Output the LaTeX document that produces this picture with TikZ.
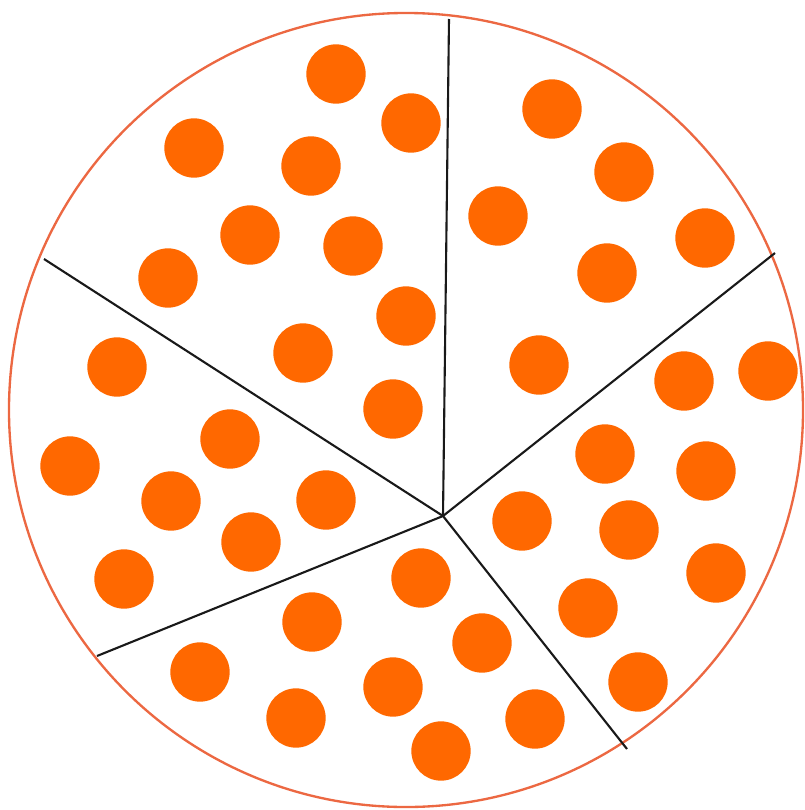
\documentclass[tikz,border=0pt]{standalone}
\usepackage{xcolor}
\usepackage{tikz}
\usetikzlibrary{positioning, calc}

\definecolor{dotorange}{RGB}{255,104,0}
\definecolor{rimorange}{RGB}{236,104,66}

\begin{document}
\begin{tikzpicture}[x=0.03cm, y=-0.03cm]

\tikzset{
    pie/.style={circle, minimum size=23.82cm, inner sep=0pt, draw=rimorange, line width=2pt},
    dot/.style={circle, minimum size=1.78cm, inner sep=0pt, fill=dotorange},
    spoke/.style={line width=1.8pt, color=black!90}
}

\useasboundingbox (0,0) rectangle (804,810);

% ── 圆盘 ──
\node[pie] (P) at (406, 410) {};

% ── 分割线 ──
\coordinate (H)  at (443, 516);
\coordinate (R1) at (449, 19);
\coordinate (R2) at (775, 253);
\coordinate (R3) at (627, 749);
\coordinate (R4) at (97, 656);
\coordinate (R5) at (44, 259);

\draw[spoke] (H) -- (R1);
\draw[spoke] (H) -- (R2);
\draw[spoke] (H) -- (R3);
\draw[spoke] (H) -- (R4);
\draw[spoke] (H) -- (R5);

% ── 左上 ──
\node[dot] (D1)  at (336, 74)  {};
\node[dot] (D2)  at (411, 123) {};
\node[dot] (D3)  at (194, 148) {};
\node[dot] (D4)  at (311, 166) {};
\node[dot] (D5)  at (250, 235) {};
\node[dot] (D6)  at (353, 246) {};
\node[dot] (D7)  at (168, 278) {};
\node[dot] (D8)  at (406, 316) {};
\node[dot] (D9)  at (303, 353) {};
\node[dot] (D10) at (393, 409) {};

% ── 右上 ──
\node[dot] (D11) at (552, 109) {};
\node[dot] (D12) at (624, 172) {};
\node[dot] (D13) at (498, 216) {};
\node[dot] (D14) at (705, 238) {};
\node[dot] (D15) at (607, 273) {};
\node[dot] (D16) at (539, 365) {};

% ── 左侧 ──
\node[dot] (D17) at (117, 367) {};
\node[dot] (D18) at (70, 466)  {};
\node[dot] (D19) at (230, 439) {};
\node[dot] (D20) at (171, 501) {};
\node[dot] (D21) at (326, 500) {};
\node[dot] (D22) at (251, 542) {};
\node[dot] (D23) at (124, 579) {};

% ── 右侧 ──
\node[dot] (D24) at (684, 381) {};
\node[dot] (D25) at (768, 371) {};
\node[dot] (D26) at (605, 454) {};
\node[dot] (D27) at (706, 471) {};
\node[dot] (D28) at (522, 521) {};
\node[dot] (D29) at (629, 530) {};
\node[dot] (D30) at (716, 573) {};
\node[dot] (D31) at (588, 608) {};
\node[dot] (D32) at (638, 682) {};

% ── 下方 ──
\node[dot] (D33) at (421, 578) {};
\node[dot] (D34) at (312, 622) {};
\node[dot] (D35) at (482, 643) {};
\node[dot] (D36) at (200, 672) {};
\node[dot] (D37) at (393, 687) {};
\node[dot] (D38) at (296, 718) {};
\node[dot] (D39) at (535, 719) {};
\node[dot] (D40) at (441, 751) {};

\end{tikzpicture}
\end{document}
